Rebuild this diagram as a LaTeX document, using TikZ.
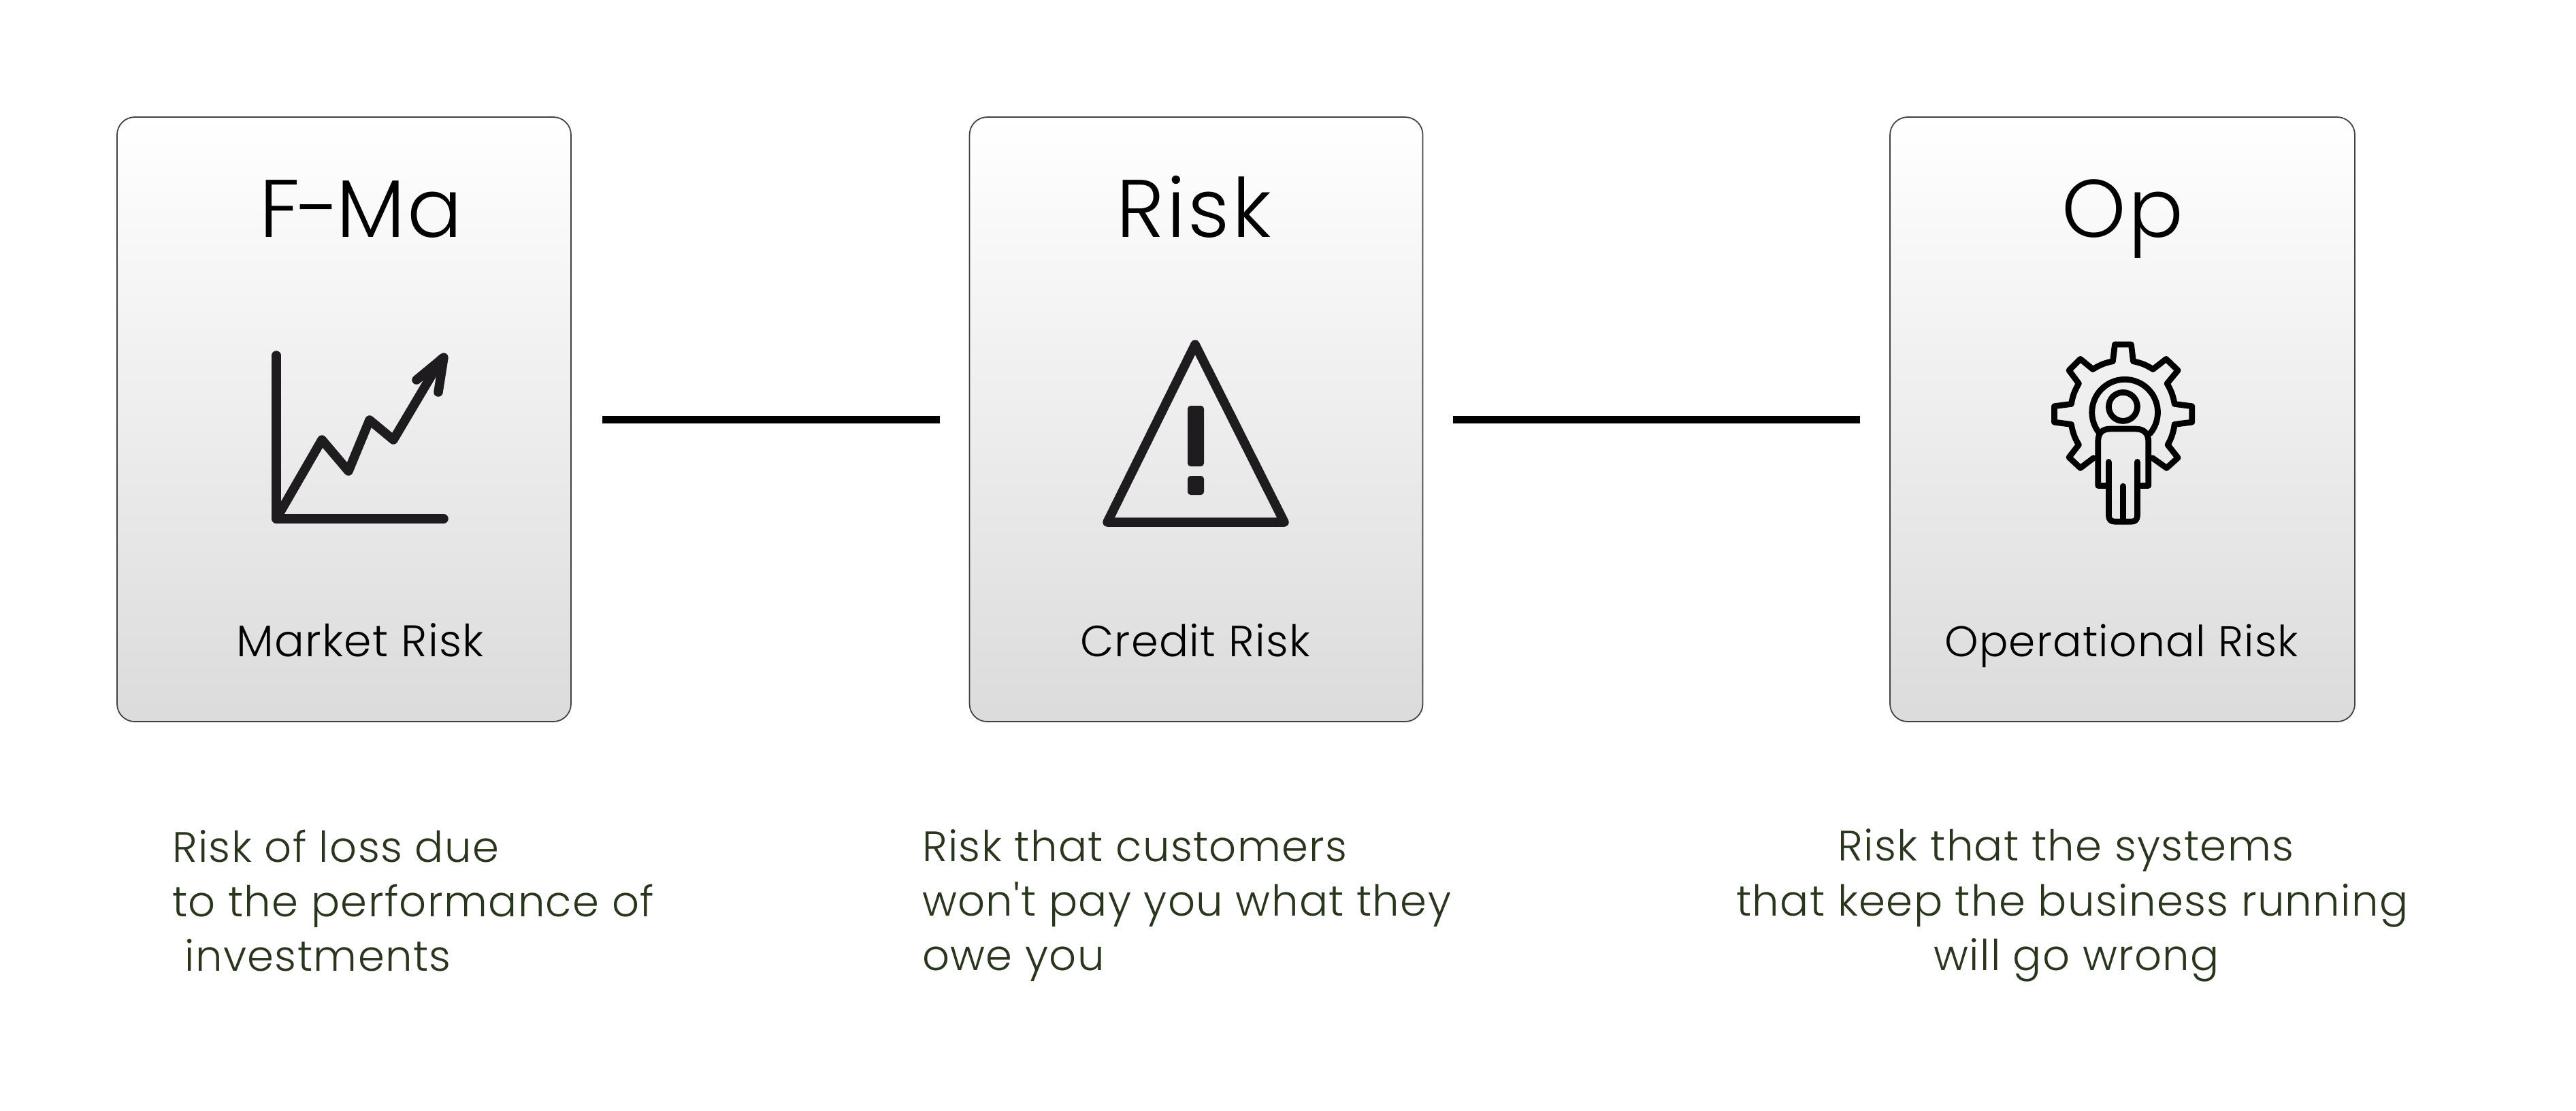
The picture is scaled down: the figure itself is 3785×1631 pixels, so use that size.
\documentclass[tikz,border=0pt]{standalone}
\usepackage{fontspec}
\setmainfont{Poppins Light}[LetterSpace=2]
\newfontfamily\titlefont{Poppins Light}[LetterSpace=3]
\newfontfamily\descfont{Poppins Light}[LetterSpace=2.2]
\definecolor{inkc}{HTML}{1E1C1F}
\definecolor{descc}{HTML}{2A351E}
\tikzset{
  card/.style={draw=black!75,line width=0.35pt,rounded corners=5.2pt,inner sep=0pt,top color=white,bottom color=black!14,minimum height=177.6pt},
  head/.style={font=\titlefont\fontsize{24}{28}\selectfont,text=black,inner sep=0pt,anchor=base},
  sub/.style={font=\fontsize{12.8}{15}\selectfont,text=black,inner sep=0pt,anchor=base},
  desc/.style={font=\descfont\fontsize{12.5}{16.08}\selectfont,text=descc,inner sep=0pt,anchor=west,align=left},
  link/.style={line width=2.2pt,black},
  ink/.style={draw=inkc,line width=2.7pt,line cap=round,line join=round},
  gear/.style={draw=black,line width=1.75pt,line cap=round,line join=round},
}
\begin{document}
\begin{tikzpicture}[x=0.2pt,y=-0.2pt]
\useasboundingbox (0,0) rectangle (3785,1631);
\node[card,minimum width=133.4pt] (c1) at (505.5,616) {};
\node[card,minimum width=133.2pt] (c2) at (1757.5,616) {};
\node[card,minimum width=136.6pt] (c3) at (3118.5,616) {};
\draw[link,shorten <=9pt,shorten >=8.6pt] (c1.east) -- (c2.west);
\draw[link,shorten <=8.8pt,shorten >=8.6pt] (c2.east) -- (c3.west);
\node[head] (t1) at (531,348) {F\kern-0.8pt-\kern-1pt Ma};
\node[head] (t2) at (1754,348) {Risk};
\node[head] (t3) at (3119,348) {Op};
\node[sub,font=\fontsize{13}{15}\selectfont] (s1) at (529,964) {Market Risk};
\node[sub] (s2) at (1756,964) {Credit Risk};
\node[sub,font=\fontsize{12.6}{15}\selectfont] (s3) at (3117,964) {Operational Risk};
\node[desc] (d1) at (252,1323) {Risk of loss due\\to the performance of\\\hspace*{3.7pt}investments};
\node[desc] (d2) at (1354,1330) {Risk that customers\\won't pay you what they\\owe you};
\node[desc,align=center,anchor=center] (d3) at (3045,1330) {\hspace*{-1.9pt}Risk that the systems\hspace*{1.9pt}\\that keep the business running\\\hspace*{2.5pt}will go wrong};
% market icon
\draw[ink] (406,522) -- (406,762) -- (652,762);
\draw[ink] (406,762) -- (473,646) -- (512,692) -- (543,617) -- (578,646) -- (648,528);
\draw[ink] (612,558) -- (652,525) -- (644,576);
% warning icon
\draw[ink,fill=none] (1756,506) -- (1887,767) -- (1627,767) -- cycle;
\fill[inkc,rounded corners=0.9pt] (1745,596) rectangle (1769,685);
\fill[inkc,rounded corners=0.9pt] (1745,699) rectangle (1769,727);
% operational icon
\begin{scope}[shift={(2960,480)},x=0.0667pt,y=-0.0667pt]
\draw[gear] (442,78) -- (514,78) -- (523,152) to[bend left=10] (610,187) -- (668,142) -- (720,192) -- (672,250) to[bend left=10] (705,340) -- (782,350) -- (782,420) -- (705,430) to[bend left=10] (675,520) -- (720,577) -- (670,622) -- (608,578);
\draw[gear] (348,578) -- (290,622) -- (240,575) -- (283,520) to[bend left=10] (250,430) -- (175,420) -- (175,350) -- (250,340) to[bend left=10] (283,250) -- (240,192) -- (290,142) -- (345,187) to[bend left=10] (433,152) -- (442,78);
\draw[gear] (375,470) arc[start angle=140,end angle=400,radius=145];
\draw[gear] (478,352) circle[radius=63];
\draw[gear] (415,700) -- (368,700) -- (368,505) .. controls (368,470) and (385,450) .. (420,450) -- (535,450) .. controls (570,450) and (590,470) .. (590,505) -- (590,700) -- (541,700);
\draw[gear] (415,595) -- (415,830) .. controls (415,850) and (425,858) .. (442,858) -- (515,858) .. controls (532,858) and (541,850) .. (541,830) -- (541,595);
\draw[gear] (478,702) -- (478,858);
\end{scope}
\end{tikzpicture}
\end{document}
